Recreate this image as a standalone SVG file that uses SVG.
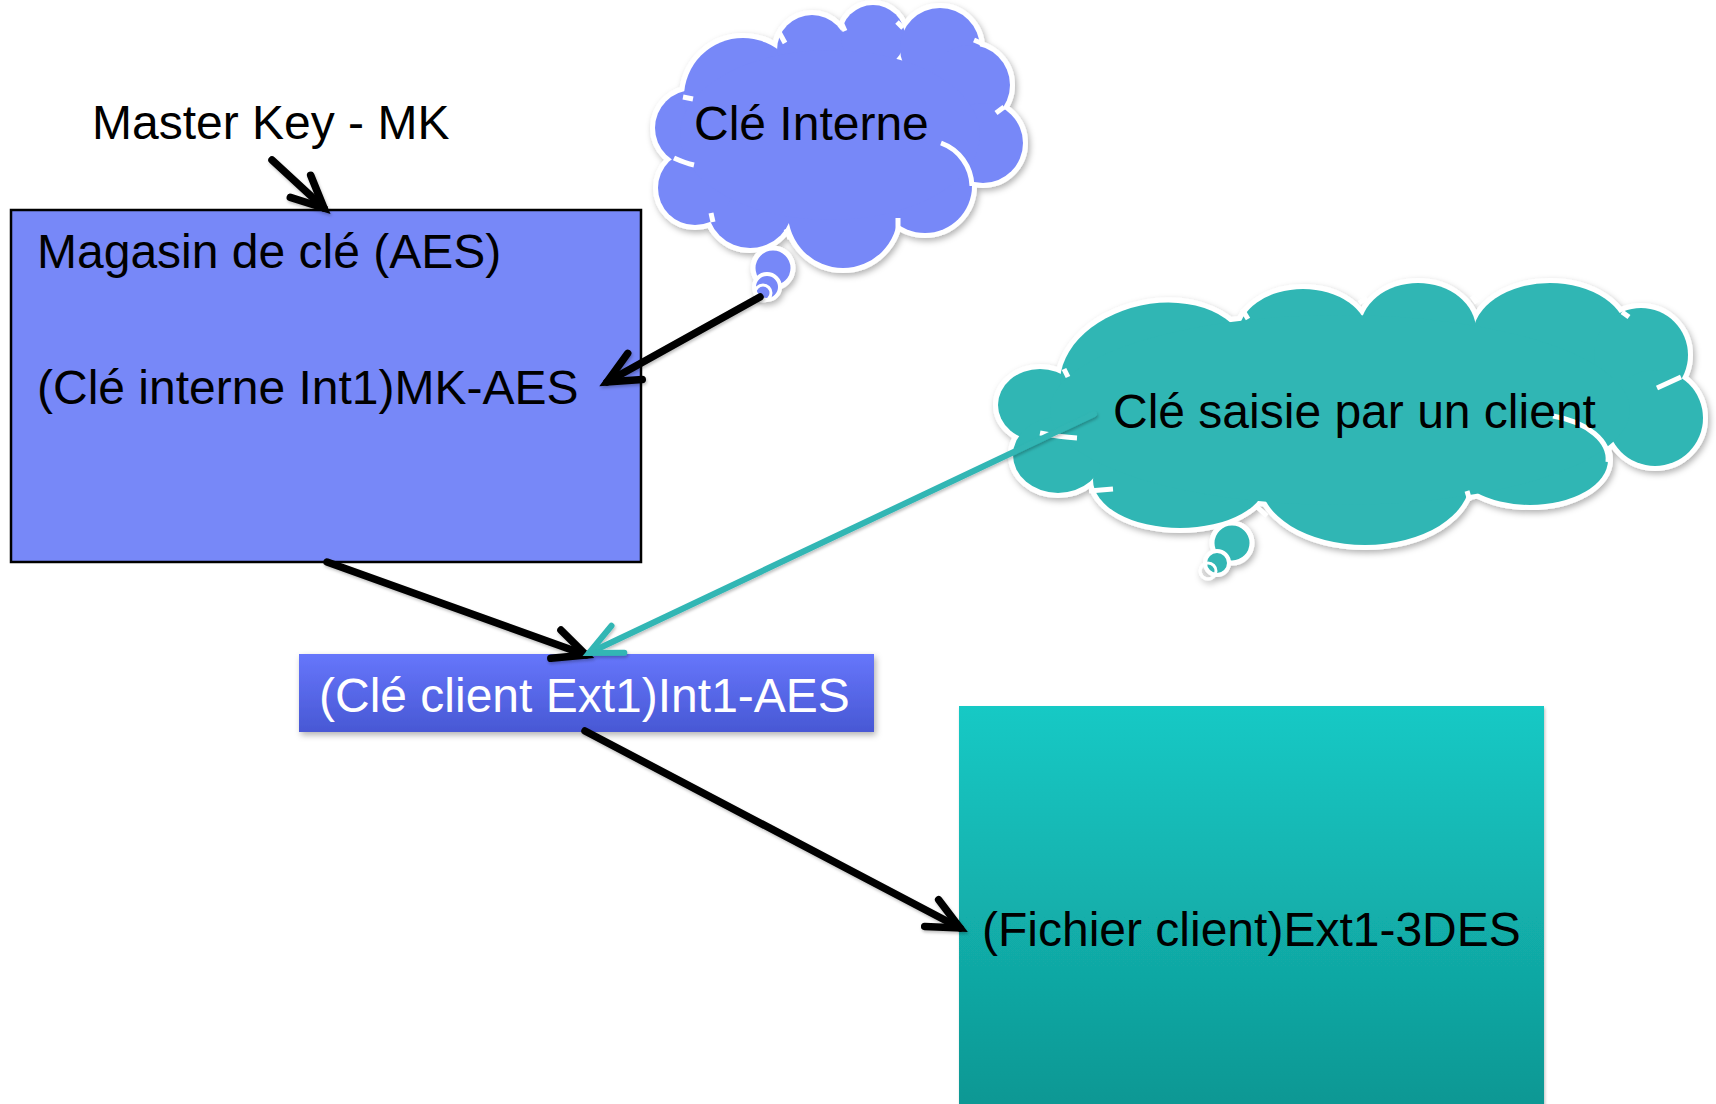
<svg xmlns="http://www.w3.org/2000/svg" xmlns:xlink="http://www.w3.org/1999/xlink" width="1716" height="1104" viewBox="0 0 1716 1104">
<style>
text{font-family:"Liberation Sans",Arial,sans-serif;font-size:48px;fill:#000}
.w{fill:#fff}
.stub{fill:none;stroke:#fff;stroke-width:5;stroke-linecap:butt}
.conn{fill:none;stroke:#000;stroke-width:7.5;stroke-linecap:round}
.teal{stroke:#30b6b4;stroke-width:6}
</style>
<defs>
<filter id="sh" x="-10%" y="-10%" width="120%" height="130%">
<feDropShadow dx="2" dy="3" stdDeviation="3" flood-color="#000" flood-opacity="0.3"/>
</filter>
<filter id="shs" x="-10%" y="-10%" width="120%" height="130%">
<feDropShadow dx="1" dy="2" stdDeviation="1.5" flood-color="#000" flood-opacity="0.25"/>
</filter>
<linearGradient id="gBlue" x1="0" y1="0" x2="0" y2="1">
<stop offset="0" stop-color="#6676fb"/>
<stop offset="1" stop-color="#4858d4"/>
</linearGradient>
<linearGradient id="gTeal" x1="0" y1="0" x2="0" y2="1">
<stop offset="0" stop-color="#16c9c5"/>
<stop offset="1" stop-color="#0e9591"/>
</linearGradient>
<marker id="ah" markerUnits="userSpaceOnUse" viewBox="-40 -20 46 40" refX="0" refY="0" markerWidth="46" markerHeight="40" orient="auto" overflow="visible">
<path d="M-32,-15 L0,0 L-32,15" fill="none" stroke="#000" stroke-width="7.5" stroke-linecap="round" stroke-linejoin="miter"/>
</marker>
<marker id="aht" markerUnits="userSpaceOnUse" viewBox="-40 -20 46 40" refX="0" refY="0" markerWidth="46" markerHeight="40" orient="auto" overflow="visible">
<path d="M-32,-15 L0,0 L-32,15" fill="none" stroke="#30b6b4" stroke-width="6" stroke-linecap="round" stroke-linejoin="miter"/>
</marker>
<g id="cloud1">
<circle cx="693" cy="128" r="38"/>
<circle cx="743" cy="97" r="59"/>
<circle cx="812" cy="50" r="35"/>
<circle cx="873" cy="37" r="32"/>
<circle cx="940" cy="48" r="40"/>
<circle cx="970" cy="85" r="40"/>
<circle cx="983" cy="143" r="40"/>
<circle cx="925" cy="186" r="47"/>
<circle cx="843" cy="213" r="55"/>
<circle cx="750" cy="205" r="43"/>
<circle cx="695" cy="188" r="37"/>
<ellipse cx="830" cy="135" rx="150" ry="85"/>
</g>
<g id="cloud2">
<ellipse cx="1040" cy="405" rx="42" ry="36"/>
<ellipse cx="1155" cy="372" rx="96" ry="68" transform="rotate(-12 1155 372)"/>
<ellipse cx="1303" cy="335" rx="65" ry="46"/>
<ellipse cx="1418" cy="330" rx="58" ry="47"/>
<ellipse cx="1550" cy="335" rx="77" ry="52"/>
<circle cx="1641" cy="355" r="47"/>
<circle cx="1655" cy="418" r="48"/>
<ellipse cx="1530" cy="460" rx="78" ry="45"/>
<ellipse cx="1365" cy="480" rx="105" ry="65"/>
<ellipse cx="1180" cy="480" rx="87" ry="48"/>
<ellipse cx="1058" cy="455" rx="45" ry="38"/>
<ellipse cx="1340" cy="410" rx="290" ry="95"/>
</g>
</defs>
<rect width="1716" height="1104" fill="#fff"/>

<g id="node-master-key">
<text x="92" y="139">Master Key - MK</text>
</g>

<g id="node-magasin">
<rect x="11" y="210" width="630" height="352" fill="#7788f8" stroke="#000" stroke-width="2.5"/>
<text x="37" y="268">Magasin de clé (AES)</text>
<text x="37" y="404">(Clé interne Int1)MK-AES</text>
</g>

<g id="node-cle-interne">
<g filter="url(#sh)">
<use xlink:href="#cloud1" fill="#fff" stroke="#fff" stroke-width="10"/>
<circle cx="773" cy="268" r="20" fill="#7788f8" stroke="#fff" stroke-width="5"/>
<circle cx="767" cy="287" r="13" fill="#7788f8" stroke="#fff" stroke-width="4"/>
<circle cx="763" cy="293" r="8" fill="none" stroke="#fff" stroke-width="3"/>
</g>
<use xlink:href="#cloud1" fill="#7788f8"/>
<path class="stub" d="M941,143 A47,47 0 0 1 972,186"/>
<path class="stub" d="M683,97 L693,99"/>
<path class="stub" d="M779,32 L785,43"/>
<path class="stub" d="M841,22 L845,31"/>
<path class="stub" d="M897,22 L903,28"/>
<path class="stub" d="M974,40 L981,43"/>
<path class="stub" d="M996,113 L1004,107"/>
<path class="stub" d="M898,218 L898,231"/>
<path class="stub" d="M786,229 L790,239"/>
<path class="stub" d="M711,213 L713,222"/>
<path class="stub" d="M674,158 Q685,163 694,165"/>
<text x="694" y="140">Clé Interne</text>
</g>

<g id="node-cle-client-cloud">
<g filter="url(#sh)">
<use xlink:href="#cloud2" fill="#fff" stroke="#fff" stroke-width="10"/>
<circle cx="1232" cy="543" r="20" fill="#30b6b4" stroke="#fff" stroke-width="5"/>
<circle cx="1217" cy="563" r="12" fill="#30b6b4" stroke="#fff" stroke-width="4"/>
<circle cx="1208" cy="571" r="8" fill="none" stroke="#fff" stroke-width="3"/>
</g>
<use xlink:href="#cloud2" fill="#30b6b4"/>
<path class="stub" d="M1553,416 A78,45 0 0 1 1608,462"/>
<path class="stub" d="M1064,369 L1068,377"/>
<path class="stub" d="M1242,309 L1248,319"/>
<path class="stub" d="M1359,303 L1367,298"/>
<path class="stub" d="M1472,296 L1477,303"/>
<path class="stub" d="M1622,312 L1629,317"/>
<path class="stub" d="M1657,388 L1681,377"/>
<path class="stub" d="M1467,491 L1470,501"/>
<path class="stub" d="M1256,506 L1267,516"/>
<path class="stub" d="M1089,491 L1113,489"/>
<path class="stub" d="M1040,433 Q1060,437 1077,438"/>
<text x="1113" y="428">Clé saisie par un client</text>
</g>

<g id="node-cle-client">
<rect x="299" y="654" width="575" height="78" fill="url(#gBlue)" filter="url(#sh)"/>
<text class="w" x="319" y="712">(Clé client Ext1)Int1-AES</text>
</g>

<g id="node-fichier">
<rect x="959" y="706" width="585" height="420" fill="url(#gTeal)" filter="url(#shs)"/>
<text x="982" y="946">(Fichier client)Ext1-3DES</text>
</g>

<g id="connectors" filter="url(#shs)">
<line class="conn" x1="272" y1="160" x2="324" y2="208" marker-end="url(#ah)"/>
<line class="conn" x1="760" y1="297" x2="607" y2="382" marker-end="url(#ah)"/>
<line class="conn" x1="327" y1="562" x2="586" y2="655" marker-end="url(#ah)"/>
<line class="conn teal" x1="1094" y1="414" x2="589" y2="653" marker-end="url(#aht)"/>
<line class="conn" x1="585" y1="731" x2="960" y2="928" marker-end="url(#ah)"/>
</g>
</svg>
